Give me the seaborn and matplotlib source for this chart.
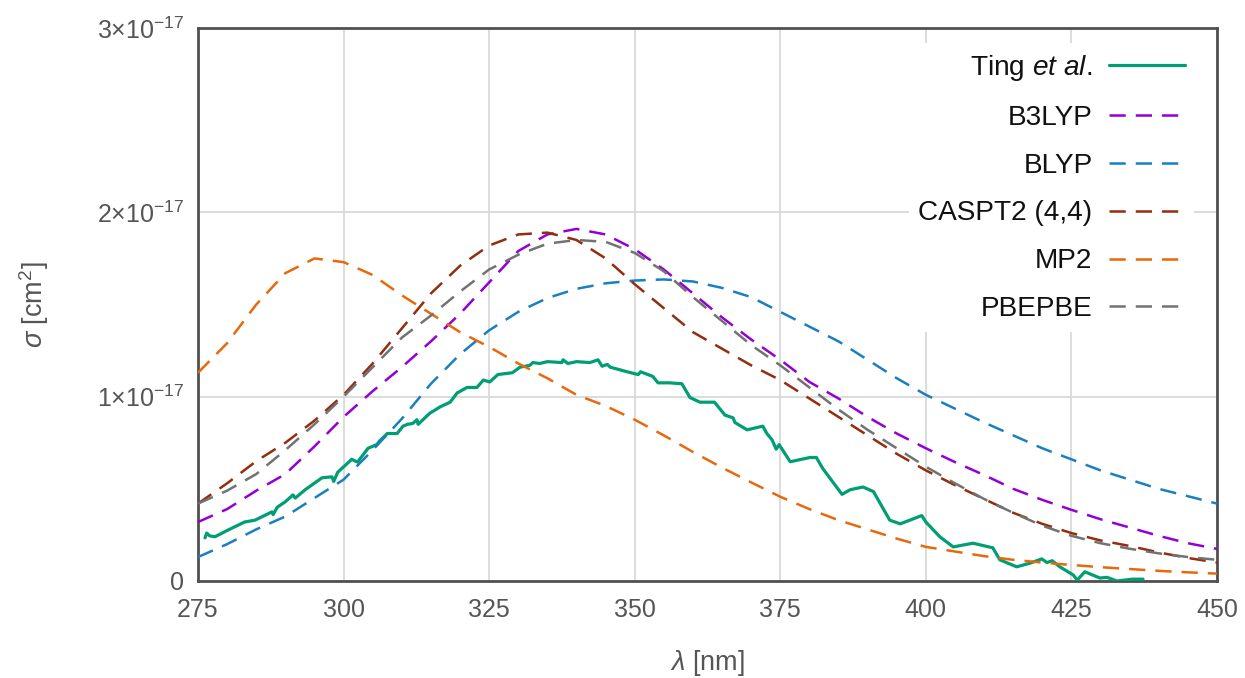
import numpy as np
import pandas as pd
import matplotlib
matplotlib.use("Agg")
import matplotlib.pyplot as plt
import seaborn as sns

# Wavelength grid (nm) for the computed spectra
lam_calc = [275, 280, 285, 290, 295, 300, 305, 310, 315, 320, 325, 330, 335, 340,
            345, 350, 355, 360, 365, 370, 375, 380, 385, 390, 395, 400, 405, 410,
            415, 420, 425, 430, 435, 440, 445, 450]

# Cross sections in units of 1e-17 cm^2
b3lyp = [0.32, 0.39, 0.49, 0.58, 0.73, 0.89, 1.03, 1.16, 1.30, 1.45, 1.62, 1.79, 1.88, 1.91,
         1.88, 1.80, 1.69, 1.56, 1.43, 1.31, 1.20, 1.08, 0.99, 0.89, 0.80, 0.72, 0.645, 0.575,
         0.50, 0.44, 0.386, 0.335, 0.29, 0.245, 0.205, 0.174]
blyp = [0.13, 0.20, 0.28, 0.35, 0.45, 0.55, 0.71, 0.88, 1.07, 1.23, 1.36, 1.46, 1.535, 1.585,
        1.615, 1.63, 1.636, 1.625, 1.59, 1.54, 1.46, 1.38, 1.30, 1.20, 1.10, 1.01, 0.935, 0.86,
        0.79, 0.72, 0.66, 0.60, 0.55, 0.50, 0.46, 0.42]
caspt2 = [0.42, 0.53, 0.65, 0.75, 0.87, 1.01, 1.18, 1.37, 1.56, 1.71, 1.82, 1.88, 1.89, 1.85,
          1.75, 1.61, 1.48, 1.35, 1.26, 1.17, 1.09, 0.99, 0.89, 0.79, 0.69, 0.60, 0.52, 0.445,
          0.37, 0.31, 0.26, 0.22, 0.19, 0.155, 0.125, 0.10]
mp2 = [1.13, 1.29, 1.50, 1.67, 1.75, 1.73, 1.66, 1.55, 1.45, 1.35, 1.27, 1.18, 1.10, 1.01,
       0.95, 0.875, 0.79, 0.70, 0.615, 0.535, 0.457, 0.39, 0.33, 0.28, 0.23, 0.185, 0.16, 0.135,
       0.115, 0.10, 0.087, 0.075, 0.065, 0.055, 0.047, 0.04]
pbepbe = [0.42, 0.49, 0.58, 0.71, 0.85, 1.00, 1.16, 1.32, 1.44, 1.57, 1.69, 1.77, 1.83, 1.85,
          1.84, 1.78, 1.68, 1.54, 1.41, 1.28, 1.17, 1.05, 0.93, 0.82, 0.72, 0.62, 0.53, 0.445,
          0.37, 0.30, 0.245, 0.205, 0.175, 0.15, 0.13, 0.115]

# Measured spectrum (Ting et al.)
lam_exp = [276.2, 276.5, 277.0, 277.9, 280.2, 283.0, 284.8, 287.7, 287.9, 288.6, 290.0, 291.3,
           291.7, 293.4, 296.3, 298.0, 298.3, 299.0, 301.4, 302.4, 304.2, 305.7, 306.2, 307.5,
           309.2, 310.2, 311.0, 311.9, 312.6, 312.8, 314.8, 316.6, 318.3, 319.5, 321.2, 322.9,
           324.0, 325.1, 326.5, 329.0, 330.3, 332.0, 332.5, 333.7, 335.0, 337.5, 337.7, 338.5,
           340.0, 342.3, 343.7, 344.4, 345.3, 345.8, 348.7, 350.6, 351.0, 353.1, 354.0, 356.0,
           358.1, 359.5, 361.2, 363.7, 365.5, 366.9, 367.2, 369.3, 372.0, 372.7, 373.6, 374.3,
           374.8, 376.7, 380.1, 381.2, 382.3, 385.6, 387.0, 389.2, 391.0, 393.8, 395.6, 399.3,
           400.0, 402.4, 404.7, 408.1, 411.5, 412.7, 415.6, 417.9, 419.9, 420.8, 421.7, 423.0,
           425.3, 426.0, 427.3, 429.9, 431.1, 432.8, 435.5, 437.3]
ting = [0.234, 0.26, 0.245, 0.24, 0.277, 0.32, 0.33, 0.375, 0.36, 0.40, 0.43, 0.467,
        0.45, 0.495, 0.56, 0.565, 0.54, 0.59, 0.66, 0.645, 0.72, 0.74, 0.76, 0.80,
        0.80, 0.84, 0.85, 0.855, 0.875, 0.85, 0.91, 0.945, 0.97, 1.02, 1.05, 1.05,
        1.09, 1.08, 1.12, 1.13, 1.16, 1.17, 1.185, 1.18, 1.19, 1.185, 1.20, 1.18,
        1.19, 1.185, 1.20, 1.165, 1.175, 1.16, 1.135, 1.12, 1.135, 1.11, 1.075, 1.075,
        1.07, 0.995, 0.97, 0.97, 0.90, 0.885, 0.86, 0.82, 0.84, 0.80, 0.765, 0.715,
        0.74, 0.647, 0.67, 0.67, 0.61, 0.47, 0.495, 0.51, 0.485, 0.33, 0.31, 0.355,
        0.32, 0.24, 0.185, 0.205, 0.18, 0.115, 0.077, 0.097, 0.12, 0.10, 0.11, 0.077,
        0.033, 0.005, 0.05, 0.016, 0.02, 0.0, 0.01, 0.01]

x_ticks = [275, 300, 325, 350, 375, 400, 425, 450]
y_ticks = [0, 1e-17, 2e-17, 3e-17]
y_tick_labels = ["0", "1×10$^{-17}$", "2×10$^{-17}$", "3×10$^{-17}$"]

labels = ["Ting $\\mathit{et\\ al.}$", "B3LYP", "BLYP", "CASPT2 (4,4)", "MP2", "PBEPBE"]
colors = ["#009e73", "#9400d3", "#1a7fc1", "#922d0e", "#e8680c", "#727272"]

sns.set_theme(style="white")
plt.rcParams["font.family"] = ["Liberation Sans", "DejaVu Sans"]
plt.rcParams["mathtext.fontset"] = "custom"
plt.rcParams["mathtext.rm"] = "Liberation Sans"
plt.rcParams["mathtext.it"] = "Liberation Sans:italic"
plt.rcParams["mathtext.bf"] = "Liberation Sans:bold"

frames = [pd.DataFrame({"lam": lam_exp, "sigma": np.array(ting) * 1e-17, "series": labels[0]})]
for lab, vals in zip(labels[1:], [b3lyp, blyp, caspt2, mp2, pbepbe]):
    frames.append(pd.DataFrame({"lam": lam_calc, "sigma": np.array(vals) * 1e-17, "series": lab}))
df = pd.concat(frames, ignore_index=True)

fig = plt.figure(figsize=(12.45, 6.78), dpi=100)
ax = fig.add_axes([198 / 1245, 1 - 581 / 678, (1217 - 198) / 1245, (581 - 28) / 678])

for i, (lab, col) in enumerate(zip(labels, colors)):
    sub = df[df["series"] == lab]
    if i == 0:
        sns.lineplot(data=sub, x="lam", y="sigma", ax=ax, color=col, lw=2.3,
                     label=lab, sort=False, estimator=None, zorder=3)
    else:
        sns.lineplot(data=sub, x="lam", y="sigma", ax=ax, color=col, lw=1.8,
                     label=lab, sort=False, estimator=None, zorder=3,
                     dashes=False, linestyle=(0, (6.5, 4.0)))

ax.set_xlim(275, 450)
ax.set_ylim(0, 3e-17)
ax.set_xticks(x_ticks)
ax.set_yticks(y_ticks)
ax.set_yticklabels(y_tick_labels)
ax.grid(True, color="#d9d9d9", lw=1.3)
ax.set_axisbelow(True)
for s in ax.spines.values():
    s.set_color("#505050")
    s.set_linewidth(2.0)
    s.set_visible(True)
ax.tick_params(axis="both", length=0, labelsize=18, colors="#555555")
ax.tick_params(axis="x", pad=12)
ax.tick_params(axis="y", pad=10)
ax.set_xlabel("$\\lambda$ [nm]", fontsize=19.5, color="#555555", labelpad=19)
ax.set_ylabel("$\\sigma$ [cm$^2$]", fontsize=19.5, color="#555555", labelpad=33)

leg = ax.legend(loc="upper right", bbox_to_anchor=(0.9778, 0.9729), borderaxespad=0,
                markerfirst=False, frameon=True, fontsize=20.2, handlelength=2.68,
                handletextpad=0.6, labelspacing=0.78, borderpad=0.35, fancybox=False)
leg.get_frame().set_facecolor("white")
leg.get_frame().set_edgecolor("none")
leg.get_frame().set_alpha(1)
for t in leg.get_texts():
    t.set_ha("right")
    t.set_color("#111111")
# right-align legend labels inside their column
leg._legend_box.align = "right"
for packer in leg._legend_handle_box.get_children():
    packer.align = "right"

fig.savefig("out.png", dpi=100)
